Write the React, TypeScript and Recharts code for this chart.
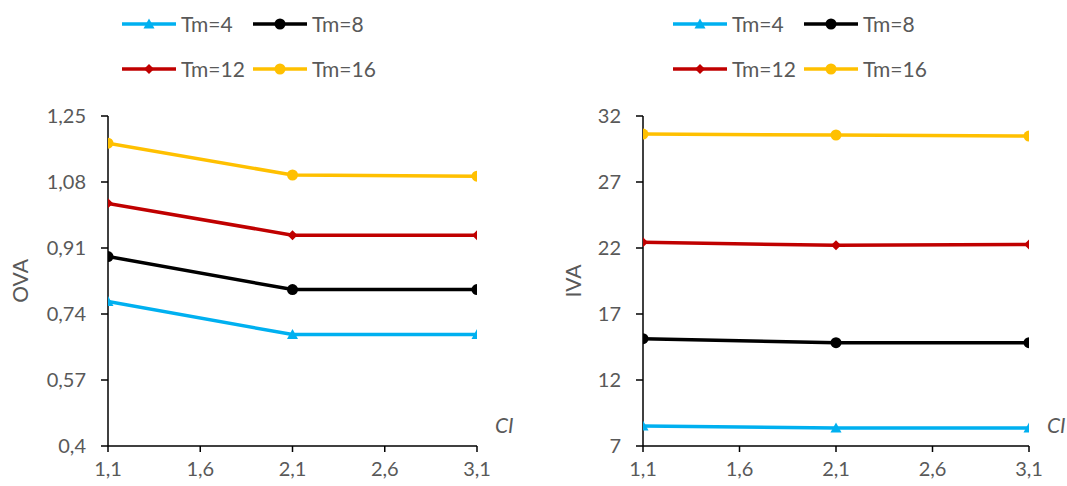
import React from 'react';
import { LineChart, Line, XAxis, YAxis, Legend } from 'recharts';

const xValues = [1.1, 2.1, 3.1];
const xTicks = [1.1, 1.6, 2.1, 2.6, 3.1];

const ovaTicks = [0.4, 0.57, 0.74, 0.91, 1.08, 1.25];
const ovaTm4 = [0.772, 0.687, 0.687];
const ovaTm8 = [0.888, 0.803, 0.803];
const ovaTm12 = [1.025, 0.943, 0.943];
const ovaTm16 = [1.18, 1.098, 1.095];

const ivaTicks = [7, 12, 17, 22, 27, 32];
const ivaTm4 = [8.52, 8.37, 8.37];
const ivaTm8 = [15.13, 14.83, 14.83];
const ivaTm12 = [22.43, 22.2, 22.27];
const ivaTm16 = [30.63, 30.56, 30.48];

const seriesNames = ['Tm=4', 'Tm=8', 'Tm=12', 'Tm=16'];
const seriesKeys = ['tm4', 'tm8', 'tm12', 'tm16'];
const seriesColors = ['#00B0F0', '#000000', '#C00000', '#FFC000'];
const seriesShapes = ['triangle', 'circle', 'diamond', 'circle'];

const FONT = 'Lato, "Open Sans", sans-serif';
const TEXT = '#595959';

const buildData = (a: number[], b: number[], c: number[], d: number[]) =>
  xValues.map((x, i) => ({ x, tm4: a[i], tm8: b[i], tm12: c[i], tm16: d[i] }));

const ovaData = buildData(ovaTm4, ovaTm8, ovaTm12, ovaTm16);
const ivaData = buildData(ivaTm4, ivaTm8, ivaTm12, ivaTm16);

const fmt = (v: number) => String(v).replace('.', ',');

function Marker({ shape, color, cx, cy }: { shape: string; color: string; cx: number; cy: number }) {
  if (shape === 'triangle') {
    return <path d={`M${cx},${cy - 5.5} L${cx + 5.5},${cy + 4.5} L${cx - 5.5},${cy + 4.5} Z`} fill={color} />;
  }
  if (shape === 'diamond') {
    return <path d={`M${cx},${cy - 5} L${cx + 5},${cy} L${cx},${cy + 5} L${cx - 5},${cy} Z`} fill={color} />;
  }
  return <circle cx={cx} cy={cy} r={5.5} fill={color} />;
}

const makeDot = (shape: string, color: string) => (props: any) => {
  const { cx, cy, index } = props;
  if (cx == null || cy == null) return <g key={`n-${index}`} />;
  return (
    <g key={`d-${index}`}>
      <Marker shape={shape} color={color} cx={cx} cy={cy} />
    </g>
  );
};

function LegendBlock() {
  return (
    <div style={{ position: 'relative', width: 280, height: 90, fontFamily: FONT }}>
      {seriesNames.map((name, i) => {
        const col = i % 2;
        const row = Math.floor(i / 2);
        return (
          <div
            key={name}
            style={{
              position: 'absolute',
              left: col * 131,
              top: row * 45 + 14,
              height: 20,
              display: 'flex',
              alignItems: 'center',
              whiteSpace: 'nowrap',
            }}
          >
            <svg width={54} height={14} style={{ display: 'block' }}>
              <line x1={0} y1={7} x2={54} y2={7} stroke={seriesColors[i]} strokeWidth={3.5} strokeLinecap="round" />
              <Marker shape={seriesShapes[i]} color={seriesColors[i]} cx={27} cy={7} />
            </svg>
            <span style={{ marginLeft: 5, fontSize: 21, color: TEXT, lineHeight: '20px' }}>{name}</span>
          </div>
        );
      })}
    </div>
  );
}

type PanelProps = {
  data: any[];
  yTicks: number[];
  yName: string;
  width: number;
  yAxisWidth: number;
  rightMargin: number;
  legendLeft: number;
  yLabelOffset: number;
};

function Panel({ data, yTicks, yName, width, yAxisWidth, rightMargin, legendLeft, yLabelOffset }: PanelProps) {
  return (
    <LineChart
      width={width}
      height={486}
      data={data}
      margin={{ top: 116, right: rightMargin, bottom: 0, left: 0 }}
      style={{ fontFamily: FONT }}
    >
      <XAxis
        dataKey="x"
        type="number"
        domain={[xTicks[0], xTicks[xTicks.length - 1]]}
        ticks={xTicks}
        tickFormatter={fmt}
        height={40}
        interval={0}
        allowDataOverflow
        axisLine={{ stroke: '#000', strokeWidth: 1.5 }}
        tickLine={{ stroke: '#000', strokeWidth: 1.5 }}
        tickSize={6}
        tickMargin={10}
        tick={{ fill: TEXT, fontSize: 20, fontFamily: FONT }}
        label={{
          content: (p: any) => {
            const vb = p.viewBox;
            return (
              <text
                x={vb.x + vb.width + 18}
                y={vb.y - 13}
                fill={TEXT}
                fontSize={21}
                fontStyle="italic"
                fontFamily={FONT}
              >
                CI
              </text>
            );
          },
        }}
      />
      <YAxis
        type="number"
        domain={[yTicks[0], yTicks[yTicks.length - 1]]}
        ticks={yTicks}
        tickFormatter={fmt}
        width={yAxisWidth}
        interval={0}
        allowDataOverflow
        axisLine={{ stroke: '#000', strokeWidth: 1.5 }}
        tickLine={{ stroke: '#000', strokeWidth: 1.5 }}
        tickSize={7}
        tickMargin={15}
        tick={{ fill: TEXT, fontSize: 20, fontFamily: FONT }}
        label={{
          content: (p: any) => {
            const vb = p.viewBox;
            const cx = vb.x + vb.width - yLabelOffset;
            const cy = vb.y + vb.height / 2;
            return (
              <text
                x={cx}
                y={cy}
                fill={TEXT}
                fontSize={21}
                fontFamily={FONT}
                textAnchor="middle"
                dominantBaseline="central"
                transform={`rotate(-90, ${cx}, ${cy})`}
              >
                {yName}
              </text>
            );
          },
        }}
      />
      <Legend
        layout="vertical"
        align="center"
        verticalAlign="middle"
        content={() => <LegendBlock />}
        wrapperStyle={{ position: 'absolute', left: legendLeft, top: 0, width: 280, height: 90 }}
      />
      {seriesKeys.map((k, i) => (
        <Line
          key={k}
          dataKey={k}
          name={seriesNames[i]}
          stroke={seriesColors[i]}
          strokeWidth={3.5}
          type="linear"
          isAnimationActive={false}
          dot={makeDot(seriesShapes[i], seriesColors[i])}
          activeDot={false}
        />
      ))}
    </LineChart>
  );
}

export default function App() {
  return (
    <div
      style={{
        position: 'absolute',
        left: 0,
        top: 0,
        width: 1067,
        height: 486,
        background: '#fff',
        fontFamily: FONT,
      }}
    >
      <div style={{ position: 'absolute', left: 0, top: 0 }}>
        <Panel data={ovaData} yTicks={ovaTicks} yName="OVA" width={533} yAxisWidth={108} rightMargin={56} legendLeft={122} yLabelOffset={89} />
      </div>
      <div style={{ position: 'absolute', left: 533, top: 0 }}>
        <Panel data={ivaData} yTicks={ivaTicks} yName="IVA" width={534} yAxisWidth={110} rightMargin={38} legendLeft={140} yLabelOffset={71} />
      </div>
    </div>
  );
}
